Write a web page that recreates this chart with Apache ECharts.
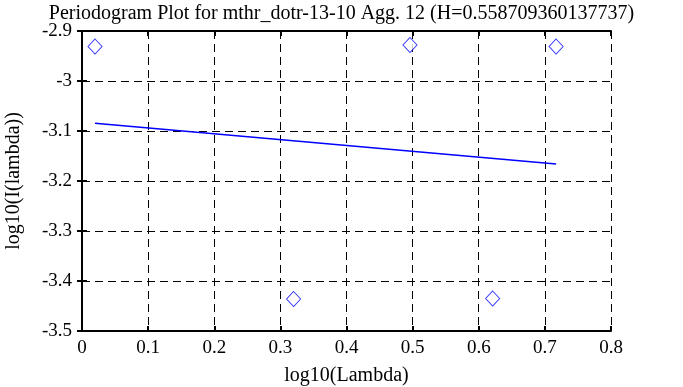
<!DOCTYPE html>
<html><head><meta charset="utf-8">
<script src="https://cdn.jsdelivr.net/npm/echarts@6/dist/echarts.min.js"></script>
<style>html,body{margin:0;padding:0;background:#fff}#c{width:683px;height:387px}</style>
</head><body><div id="c"></div>
<script>
var titleText = 'Periodogram Plot for mthr_dotr-13-10 Agg. 12 (H=0.558709360137737)';
var xName = 'log10(Lambda)';
var yName = 'log10(I(lambda))';
var pointX = [0.0197, 0.320, 0.496, 0.621, 0.717];
var pointY = [-2.931, -3.436, -2.928, -3.435, -2.931];
var fitX = [0.0197, 0.717];
var fitY = [-3.0847, -3.166];

var font = 'Liberation Serif, Times New Roman, serif';
var chart = echarts.init(document.getElementById('c'));
var axBase = {
  axisLine: {show: true, lineStyle: {color: '#000', width: 2}},
  axisTick: {show: true, inside: true, length: 5, lineStyle: {color: '#000', width: 2}},
  splitLine: {show: false},
  axisLabel: {show: false}
};
chart.setOption({
  animation: false,
  title: {text: titleText, left: 'center', top: -1, textStyle: {fontFamily: font, fontWeight: 'normal', fontSize: 20, color: '#000'}},
  grid: {left: 82, right: 72, top: 31, bottom: 56, containLabel: false, outerBoundsMode: 'none'},
  xAxis: [
    Object.assign({}, axBase, {type: 'value', min: 0, max: 0.8, interval: 0.1, position: 'bottom',
      name: xName, nameLocation: 'middle', nameGap: 35, nameTextStyle: {fontFamily: font, fontSize: 20, color: '#000'},
      axisLabel: {show: true, fontFamily: font, fontSize: 19, color: '#000', margin: 8, formatter: function(v){return +v.toFixed(1) + '';}},
      splitLine: {show: true, lineStyle: {color: '#000', type: [8, 5], width: 1}}}),
    Object.assign({}, axBase, {type: 'value', min: 0, max: 0.8, interval: 0.1, position: 'top'})
  ],
  yAxis: [
    Object.assign({}, axBase, {type: 'value', min: -3.5, max: -2.9, interval: 0.1, position: 'left',
      name: yName, nameLocation: 'middle', nameGap: 58, nameRotate: 90, nameTextStyle: {fontFamily: font, fontSize: 20, color: '#000'},
      axisLabel: {show: true, fontFamily: font, fontSize: 19, color: '#000', margin: 10, formatter: function(v){return +v.toFixed(1) + '';}},
      splitLine: {show: true, lineStyle: {color: '#000', type: [8, 5], width: 1}}}),
    Object.assign({}, axBase, {type: 'value', min: -3.5, max: -2.9, interval: 0.1, position: 'right'})
  ],
  series: [
    {type: 'scatter', symbol: 'diamond', symbolSize: [14, 15],
      itemStyle: {color: '#fff', borderColor: '#0000ff', borderWidth: 1},
      data: pointX.map(function(x, i){return [x, pointY[i]];})},
    {type: 'line', symbol: 'none', lineStyle: {color: '#0000ff', width: 1.5},
      data: fitX.map(function(x, i){return [x, fitY[i]];})}
  ]
});
</script></body></html>
